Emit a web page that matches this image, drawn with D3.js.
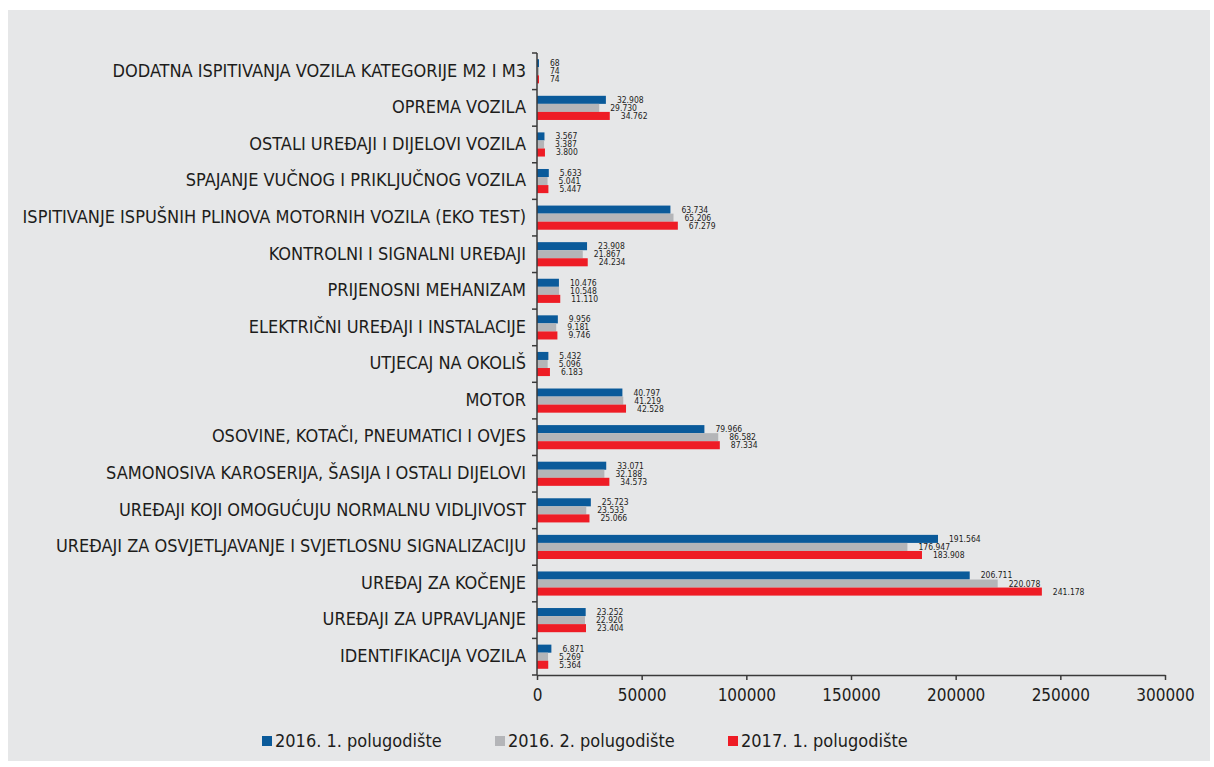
<!DOCTYPE html>
<html>
<head>
<meta charset="utf-8">
<script src="https://cdn.jsdelivr.net/npm/d3@7"></script>
<style>
  html, body { margin: 0; padding: 0; background: #ffffff; }
  svg { display: block; }
  .lbl { font-family: "Liberation Sans Narrow", "DejaVu Sans Condensed", sans-serif; fill: #1d1d1b; }
</style>
</head>
<body>
<svg id="chart" width="1214" height="767"></svg>
<script>
// categories top -> bottom
const categories = [
  'DODATNA ISPITIVANJA VOZILA KATEGORIJE M2 I M3',
  'OPREMA VOZILA',
  'OSTALI UREĐAJI I DIJELOVI VOZILA',
  'SPAJANJE VUČNOG I PRIKLJUČNOG VOZILA',
  'ISPITIVANJE ISPUŠNIH PLINOVA MOTORNIH VOZILA (EKO TEST)',
  'KONTROLNI I SIGNALNI UREĐAJI',
  'PRIJENOSNI MEHANIZAM',
  'ELEKTRIČNI UREĐAJI I INSTALACIJE',
  'UTJECAJ NA OKOLIŠ',
  'MOTOR',
  'OSOVINE, KOTAČI, PNEUMATICI I OVJES',
  'SAMONOSIVA KAROSERIJA, ŠASIJA I OSTALI DIJELOVI',
  'UREĐAJI KOJI OMOGUĆUJU NORMALNU VIDLJIVOST',
  'UREĐAJI ZA OSVJETLJAVANJE I SVJETLOSNU SIGNALIZACIJU',
  'UREĐAJ ZA KOČENJE',
  'UREĐAJI ZA UPRAVLJANJE',
  'IDENTIFIKACIJA VOZILA'
];

const h2016a = [68, 32908, 3567, 5633, 63734, 23908, 10476, 9956, 5432, 40797, 79966, 33071, 25723, 191564, 206711, 23252, 6871];
const h2016b = [74, 29730, 3387, 5041, 65206, 21867, 10548, 9181, 5096, 41219, 86582, 32188, 23533, 176947, 220078, 22920, 5269];
const h2017a = [74, 34762, 3800, 5447, 67279, 24234, 11110, 9746, 6183, 42528, 87334, 34573, 25066, 183908, 241178, 23404, 5364];

const seriesNames = ['2016. 1. polugodište', '2016. 2. polugodište', '2017. 1. polugodište'];
const xTicks = [0, 50000, 100000, 150000, 200000, 250000, 300000];

const series = [
  { name: seriesNames[0], values: h2016a, color: '#0a5a9a' },
  { name: seriesNames[1], values: h2016b, color: '#b4b5b8' },
  { name: seriesNames[2], values: h2017a, color: '#ee1c25' }
];

const svg = d3.select('#chart');

svg.append('rect')
  .attr('x', 8).attr('y', 10)
  .attr('width', 1202).attr('height', 751)
  .attr('fill', '#e6e7e8');

const m = { left: 537, right: 1165, top: 53, bottom: 675 };

const x = d3.scaleLinear().domain([0, 300000]).range([m.left, m.right]);
const y = d3.scaleBand().domain(categories).range([m.top, m.bottom]).paddingInner(0.34).paddingOuter(0.17);
const ySub = d3.scaleBand().domain(d3.range(series.length)).range([0, y.bandwidth()]);

const fmt = v => d3.format(',')(v).replace(/,/g, '.');
// tiny values still get a visible stub, as in the print
const barW = v => Math.max(2, x(v) - x(0));

// bars
series.forEach((s, i) => {
  svg.append('g').selectAll('rect')
    .data(categories)
    .join('rect')
    .attr('x', x(0))
    .attr('y', (c) => y(c) + ySub(i))
    .attr('width', (c, k) => barW(s.values[k]))
    .attr('height', ySub.bandwidth())
    .attr('fill', s.color);
});

// value labels
series.forEach((s, i) => {
  svg.append('g').selectAll('text')
    .data(categories)
    .join('text')
    .attr('class', 'lbl')
    .attr('x', (c, k) => x(0) + barW(s.values[k]) + 11)
    .attr('y', (c) => y(c) + ySub(i) + ySub.bandwidth() / 2)
    .attr('dy', '0.35em')
    .attr('font-size', 8.5)
    .text((c, k) => fmt(s.values[k]));
});

// y axis: ticks at band boundaries
const yAxisG = svg.append('g');
yAxisG.append('line')
  .attr('x1', m.left).attr('x2', m.left)
  .attr('y1', m.top).attr('y2', m.bottom)
  .attr('stroke', '#3a3a3a').attr('stroke-width', 1.5);
const bounds = categories.map(c => y(c) - y.step() * y.paddingInner() / 2);
bounds.push(m.bottom);
yAxisG.selectAll('line.tk')
  .data(bounds)
  .join('line')
  .attr('class', 'tk')
  .attr('x1', m.left - 5).attr('x2', m.left)
  .attr('y1', d => d).attr('y2', d => d)
  .attr('stroke', '#3a3a3a').attr('stroke-width', 1.5);

yAxisG.selectAll('text')
  .data(categories)
  .join('text')
  .attr('class', 'lbl')
  .attr('x', m.left - 11)
  .attr('y', c => y(c) + y.bandwidth() / 2 - 1)
  .attr('dy', '0.35em')
  .attr('text-anchor', 'end')
  .attr('font-size', 18)
  .text(c => c);

// x axis
const xAxis = d3.axisBottom(x).tickValues(xTicks).tickFormat(d3.format('d')).tickSize(5).tickSizeOuter(0);
const xg = svg.append('g')
  .attr('transform', `translate(0,${m.bottom})`)
  .call(xAxis);
xg.select('.domain').attr('stroke', '#3a3a3a').attr('stroke-width', 1.5);
xg.selectAll('.tick line').attr('stroke', '#3a3a3a').attr('stroke-width', 1.5);
xg.selectAll('.tick text')
  .attr('class', 'lbl')
  .attr('font-size', 17)
  .attr('dy', '1.05em');

// legend
const legendX = [262, 495, 728];
const lg = svg.append('g');
series.forEach((s, i) => {
  lg.append('rect')
    .attr('x', legendX[i]).attr('y', 736)
    .attr('width', 10).attr('height', 10)
    .attr('fill', s.color);
  lg.append('text')
    .attr('class', 'lbl')
    .attr('x', legendX[i] + 13)
    .attr('y', 741)
    .attr('dy', '0.35em')
    .attr('font-size', 18)
    .text(s.name);
});
</script>
</body>
</html>
